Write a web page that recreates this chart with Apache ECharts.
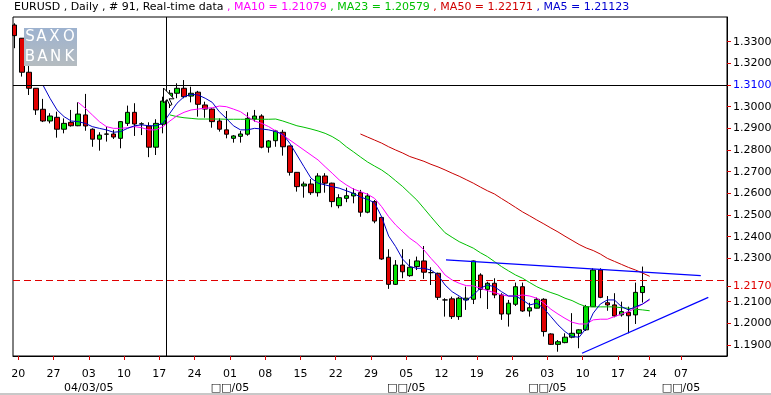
<!DOCTYPE html>
<html><head><meta charset="utf-8">
<script src="https://cdn.jsdelivr.net/npm/echarts@6/dist/echarts.min.js"></script>
<style>html,body{margin:0;padding:0;background:#fff}#c{width:771px;height:395px}</style>
</head><body><div id="c"></div>
<script>
// ---- data (bar positions are 1-based trading-day indexes) ----
const firstBar = 1;
// [open, close, low, high]
const candles = [
[1.3377,1.3328,1.3270,1.3385],[1.3316,1.3159,1.3139,1.3317],[1.3159,1.3085,1.3054,1.3223],[1.3085,1.2985,1.2962,1.3086],
[1.2988,1.2934,1.2929,1.3036],[1.2934,1.2957,1.2923,1.2970],[1.2951,1.2896,1.2857,1.2977],[1.2896,1.2923,1.2877,1.2946],
[1.2928,1.2912,1.2908,1.2985],[1.2912,1.2966,1.2910,1.3020],[1.2962,1.2911,1.2889,1.3059],[1.2896,1.2850,1.2815,1.2900],
[1.2850,1.2869,1.2797,1.2882],[1.2873,1.2874,1.2839,1.2908],[1.2874,1.2860,1.2851,1.2893],[1.2854,1.2931,1.2808,1.2934],
[1.2923,1.2974,1.2911,1.3005],[1.2974,1.2920,1.2865,1.3016],[1.2920,1.2921,1.2869,1.2928],[1.2911,1.2813,1.2767,1.2928],
[1.2813,1.2923,1.2777,1.2942],[1.2919,1.3026,1.2877,1.3046],[1.3046,1.3062,1.2994,1.3077],[1.3062,1.3085,1.3039,1.3108],
[1.3085,1.3046,1.3039,1.3123],[1.3049,1.3062,1.3020,1.3092],[1.3067,1.3011,1.2954,1.3073],[1.3008,1.2989,1.2949,1.3023],
[1.2989,1.2931,1.2903,1.2993],[1.2934,1.2896,1.2885,1.2946],[1.2893,1.2873,1.2854,1.2980],[1.2854,1.2865,1.2834,1.2869],
[1.2863,1.2874,1.2834,1.2888],[1.2873,1.2946,1.2866,1.2974],[1.2943,1.2957,1.2931,1.2985],[1.2957,1.2813,1.2808,1.2965],
[1.2813,1.2842,1.2788,1.2846],[1.2843,1.2888,1.2815,1.2893],[1.2882,1.2815,1.2774,1.2893],[1.2819,1.2697,1.2682,1.2820],
[1.2697,1.2631,1.2608,1.2698],[1.2634,1.2643,1.2580,1.2654],[1.2643,1.2603,1.2593,1.2666],[1.2603,1.2680,1.2585,1.2693],
[1.2680,1.2647,1.2603,1.2693],[1.2647,1.2562,1.2536,1.2649],[1.2543,1.2580,1.2531,1.2596],[1.2577,1.2589,1.2559,1.2626],
[1.2588,1.2600,1.2554,1.2623],[1.2603,1.2513,1.2492,1.2616],[1.2513,1.2588,1.2508,1.2600],[1.2562,1.2472,1.2462,1.2569],
[1.2489,1.2297,1.2293,1.2492],[1.2305,1.2180,1.2159,1.2342],[1.2180,1.2269,1.2177,1.2292],[1.2269,1.2238,1.2208,1.2342],
[1.2220,1.2259,1.2215,1.2296],[1.2262,1.2288,1.2246,1.2308],[1.2288,1.2236,1.2205,1.2357],[1.2234,1.2234,1.2177,1.2259],
[1.2231,1.2120,1.2108,1.2234],[1.2108,1.2108,1.2031,1.2116],[1.2113,1.2031,1.2020,1.2123],[1.2031,1.2116,1.2016,1.2123],
[1.2108,1.2116,1.2062,1.2169],[1.2111,1.2288,1.2089,1.2290],[1.2223,1.2157,1.2116,1.2231],[1.2157,1.2185,1.2066,1.2192],
[1.2185,1.2131,1.2116,1.2208],[1.2131,1.2043,1.2016,1.2139],[1.2043,1.2093,1.1985,1.2108],[1.2088,1.2169,1.2080,1.2188],
[1.2169,1.2057,1.2053,1.2188],[1.2057,1.2072,1.2031,1.2095],[1.2070,1.2111,1.2069,1.2119],[1.2111,1.1962,1.1939,1.2116],
[1.1951,1.1903,1.1900,1.1954],[1.1903,1.1915,1.1869,1.1923],[1.1911,1.1936,1.1908,1.1954],[1.1936,1.1954,1.1931,1.2047],
[1.1954,1.1970,1.1885,1.1973],[1.1970,1.2077,1.1965,1.2085],[1.2077,1.2246,1.2077,1.2254],[1.2246,1.2120,1.2116,1.2254],
[1.2095,1.2085,1.2058,1.2126],[1.2085,1.2034,1.2028,1.2139],[1.2039,1.2054,1.2031,1.2100],[1.2051,1.2035,1.1954,1.2077],
[1.2039,1.2143,1.1997,1.2188],[1.2142,1.2170,1.2096,1.2262]
];
const ma5Start = 5;
const ma5 = [1.3100,1.3039,1.2985,1.2954,1.2934,1.2931,1.2923,1.2908,1.2900,1.2893,1.2882,1.2885,1.2900,1.2912,1.2916,1.2912,1.2912,1.2923,1.2970,1.3016,1.3046,1.3057,1.3054,1.3039,1.3020,1.2977,1.2946,1.2912,1.2893,1.2893,1.2900,1.2897,1.2893,1.2885,1.2873,1.2831,1.2777,1.2723,1.2670,1.2647,1.2639,1.2631,1.2624,1.2612,1.2600,1.2583,1.2572,1.2557,1.2492,1.2403,1.2354,1.2296,1.2262,1.2254,1.2254,1.2246,1.2223,1.2177,1.2146,1.2126,1.2105,1.2131,1.2162,1.2177,1.2169,1.2146,1.2126,1.2126,1.2108,1.2085,1.2093,1.2069,1.2031,1.1993,1.1962,1.1939,1.1936,1.1977,1.2047,1.2089,1.2108,1.2108,1.2077,1.2062,1.2077,1.2089,1.2112];
const ma10Start = 10;
const ma10 = [1.3020,1.2993,1.2962,1.2931,1.2908,1.2900,1.2900,1.2903,1.2908,1.2903,1.2893,1.2893,1.2908,1.2934,1.2958,1.2974,1.2985,1.2989,1.2993,1.2995,1.3003,1.3000,1.2989,1.2977,1.2954,1.2934,1.2923,1.2908,1.2888,1.2869,1.2846,1.2823,1.2800,1.2777,1.2754,1.2723,1.2693,1.2662,1.2639,1.2620,1.2608,1.2596,1.2577,1.2539,1.2492,1.2454,1.2423,1.2393,1.2370,1.2339,1.2300,1.2265,1.2223,1.2200,1.2185,1.2174,1.2173,1.2162,1.2151,1.2142,1.2131,1.2126,1.2126,1.2131,1.2126,1.2116,1.2093,1.2065,1.2043,1.2023,1.2005,1.1997,1.1997,1.2016,1.2019,1.2019,1.2031,1.2043,1.2054,1.2070,1.2089,1.2108];
const ma23Start = 23;
const ma23 = [1.2962,1.2954,1.2949,1.2946,1.2943,1.2943,1.2943,1.2943,1.2942,1.2942,1.2942,1.2942,1.2942,1.2942,1.2942,1.2943,1.2934,1.2923,1.2912,1.2905,1.2897,1.2888,1.2877,1.2862,1.2842,1.2815,1.2792,1.2768,1.2745,1.2726,1.2708,1.2685,1.2658,1.2631,1.2600,1.2569,1.2531,1.2492,1.2454,1.2418,1.2397,1.2377,1.2362,1.2347,1.2326,1.2308,1.2285,1.2262,1.2242,1.2223,1.2208,1.2188,1.2169,1.2154,1.2142,1.2131,1.2116,1.2105,1.2089,1.2077,1.2076,1.2076,1.2076,1.2076,1.2072,1.2070,1.2065,1.2062,1.2058];
const ma50Start = 50;
const ma50 = [1.2874,1.2860,1.2846,1.2832,1.2815,1.2800,1.2786,1.2770,1.2759,1.2748,1.2734,1.2722,1.2708,1.2693,1.2679,1.2663,1.2647,1.2629,1.2612,1.2597,1.2576,1.2556,1.2535,1.2514,1.2496,1.2477,1.2459,1.2440,1.2422,1.2402,1.2383,1.2364,1.2348,1.2336,1.2320,1.2300,1.2286,1.2272,1.2258,1.2246,1.2232,1.2217];
const upperTrend = [[62.13, 1.2293], [98.24, 1.2220]];
const lowerTrend = [[81.41, 1.1862], [99.31, 1.2120]];
const crossX = 22.5, crossY = 1.3108, crossLabel = 1.31, lastPrice = 1.217;
const weekTickPos = [1.5,6.5,11.5,16.5,21.5,26.5,31.5,36.5,41.5,46.5,51.5,56.5,61.5,66.5,71.5,76.5,81.5,86.5,91,95.45];
const weekTickLabels = ['20','27','03','10','17','24','01','08','15','22','29','05','12','19','26','03','10','17','24','07'];
const monthLabelPos = [11.5,31.5,56.5,76.5,95.45];
const monthLabels = ['04/03/05','\u25A1\u25A1/05','\u25A1\u25A1/05','\u25A1\u25A1/05','\u25A1\u25A1/05'];
const yTicks = [1.19,1.20,1.21,1.217,1.23,1.24,1.25,1.26,1.27,1.28,1.29,1.30,1.31,1.32,1.33];
const titleMain = 'EURUSD , Daily , # 91, Real-time data';
const titleMA = [' , MA10 = 1.21079',' , MA23 = 1.20579',' , MA50 = 1.22171',' , MA5 = 1.21123'];

// ---- chart ----
const FONT = 'DejaVu Sans';
const C = {ma5:'#0000c8', ma10:'#ff00ff', ma23:'#00c000', ma50:'#c80000', trend:'#0000ff', up:'#00e000', down:'#e00000'};
const near = (a,b)=>Math.abs(a-b)<1e-6;
const toSeries = (start, arr)=>arr.map((v,k)=>[start+k, v]);
const LOGO_FONT = '15px "DejaVu Sans"';
const logoLetter = (t, x, y)=>({type:'text', x:x, y:y, z:101, style:{text:t, fill:'#fff', font:LOGO_FONT, align:'center', verticalAlign:'middle'}});

const chart = echarts.init(document.getElementById('c'), null, {renderer:'canvas'});
chart.setOption({
  animation:false,
  backgroundColor:'#fff',
  title:{
    left:14, top:2, padding:0,
    text:'{k|'+titleMain+'}{m|'+titleMA[0]+'}{g|'+titleMA[1]+'}{r|'+titleMA[2]+'}{b|'+titleMA[3]+'}',
    textStyle:{fontFamily:FONT, fontSize:11, fontWeight:'normal', rich:{
      k:{color:'#000', fontFamily:FONT, fontSize:11},
      m:{color:C.ma10, fontFamily:FONT, fontSize:11},
      g:{color:C.ma23, fontFamily:FONT, fontSize:11},
      r:{color:'#d00000', fontFamily:FONT, fontSize:11},
      b:{color:'#0000d0', fontFamily:FONT, fontSize:11}
    }}
  },
  grid:{left:13, top:17, right:44, bottom:39, show:true, borderColor:'#000', borderWidth:1, backgroundColor:'#fff', containLabel:false, outerBoundsMode:'none'},
  xAxis:{
    type:'value', min:0.759, max:101.96,
    splitLine:{show:false},
    axisLine:{show:true, lineStyle:{color:'#000'}},
    axisTick:{show:true, customValues:weekTickPos, length:4, lineStyle:{color:'#e00000'}},
    axisLabel:{show:true, customValues:weekTickPos, margin:11, color:'#000', fontFamily:FONT, fontSize:11, lineHeight:14,
      formatter:function(v){
        let i = weekTickPos.findIndex(p=>near(p,v));
        if(i<0) return '';
        let j = monthLabelPos.findIndex(p=>near(p,v));
        return weekTickLabels[i] + (j>=0 ? '\n'+monthLabels[j] : '');
      }}
  },
  yAxis:{
    type:'value', position:'right', min:1.18492, max:1.34140, scale:true,
    splitLine:{show:false},
    axisLine:{show:true, lineStyle:{color:'#000'}},
    axisTick:{show:true, customValues:yTicks, length:4, lineStyle:{color:'#e00000'}},
    axisLabel:{show:true, customValues:yTicks, margin:6, color:'#000', fontFamily:FONT, fontSize:11,
      formatter:function(v){
        const s = v.toFixed(4);
        if(near(v,lastPrice)) return '{r|'+s+'}';
        if(near(v,crossLabel)) return '{b|'+s+'}';
        return s;
      },
      rich:{r:{color:'#e00000', fontFamily:FONT, fontSize:11}, b:{color:'#0000ff', fontFamily:FONT, fontSize:11}}
    }
  },
  series:[
    {type:'candlestick', barWidth:5, clip:true,
      data:candles.map((c,k)=>[firstBar+k, c[0], c[1], c[2], c[3]]),
      itemStyle:{color:C.up, color0:C.down, borderColor:'#000', borderColor0:'#000', borderColorDoji:'#000', borderWidth:1},
      markLine:{silent:true, symbol:['none','none'], label:{show:false}, animation:false,
        data:[
          {xAxis:crossX, lineStyle:{color:'#000', type:'solid', width:1}},
          {yAxis:crossY, lineStyle:{color:'#000', type:'solid', width:1}},
          {yAxis:lastPrice, lineStyle:{color:'#e00000', type:[7,4], width:1}}
        ]}
    },
    {type:'line', name:'MA50', data:toSeries(ma50Start, ma50), symbol:'none', lineStyle:{color:C.ma50, width:1}},
    {type:'line', name:'MA23', data:toSeries(ma23Start, ma23), symbol:'none', lineStyle:{color:C.ma23, width:1}},
    {type:'line', name:'MA10', data:toSeries(ma10Start, ma10), symbol:'none', lineStyle:{color:C.ma10, width:1}},
    {type:'line', name:'MA5', data:toSeries(ma5Start, ma5), symbol:'none', lineStyle:{color:C.ma5, width:1}},
    {type:'line', name:'trend1', data:upperTrend, symbol:'none', lineStyle:{color:C.trend, width:1.2}},
    {type:'line', name:'trend2', data:lowerTrend, symbol:'none', lineStyle:{color:C.trend, width:1.2}}
  ],
  graphic:[
    {type:'rect', shape:{x:24, y:28, width:53, height:38}, z:100,
      style:{fill:new echarts.graphic.LinearGradient(0,0,0,1,[{offset:0,color:'#9db2cf'},{offset:1,color:'#b5bcc0'}])}},
    logoLetter('S',30,37.5), logoLetter('A',41.5,37.5), logoLetter('X',54.5,37.5), logoLetter('O',69,37.5),
    logoLetter('B',30,57), logoLetter('A',42.5,57), logoLetter('N',55.5,57), logoLetter('K',69.5,57),
    {type:'polygon', z:102, shape:{points:[[163.5,88],[163.5,103],[167,99.5],[170,105.5],[172,104.5],[169.2,98.8],[174,98.8]]},
      style:{fill:'#fff', stroke:'#000', lineWidth:1}},
    {type:'rect', shape:{x:0, y:393, width:771, height:2}, z:100, style:{fill:'#c8c8c8'}}
  ]
});
</script></body></html>
